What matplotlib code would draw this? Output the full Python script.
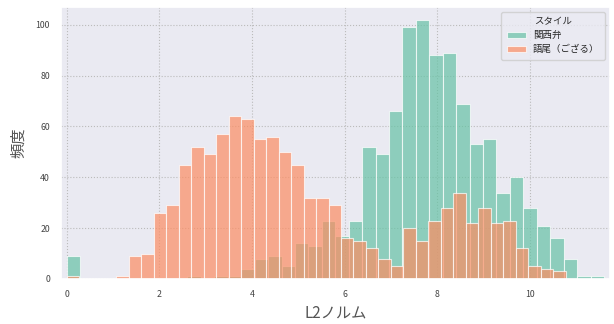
import matplotlib
matplotlib.use("Agg")
import matplotlib.pyplot as plt
import numpy as np
import seaborn as sns

# L2 norm histograms (40 bins each, computed per style)
KANSAI_RANGE = (0.0, 11.60)
KANSAI_COUNTS = [9, 0, 0, 0, 0, 0, 0, 0, 0, 1, 0, 1, 1, 4, 8, 9, 5, 14, 13, 23,
                 17, 23, 52, 49, 66, 99, 102, 88, 89, 69, 53, 55, 34, 40, 28, 21,
                 16, 8, 1, 1]
GOZARU_RANGE = (0.0, 10.77)
GOZARU_COUNTS = [1, 0, 0, 0, 1, 9, 10, 26, 29, 45, 52, 49, 57, 64, 63, 55, 56, 50,
                 45, 32, 32, 29, 16, 15, 12, 8, 5, 20, 15, 23, 28, 34, 22, 28, 22,
                 23, 12, 5, 4, 3]
LABELS = ["関西弁", "語尾（ござる）"]

sns.set_theme(style="darkgrid")
plt.rcParams["font.family"] = ["Noto Sans CJK JP", "DejaVu Sans"]
pal = sns.color_palette("Set2")

fig = plt.figure(figsize=(6.14, 3.24), dpi=100)
ax = fig.add_axes([61 / 614, 1 - 279 / 324, 549 / 614, 272 / 324])

for counts, rng, color, label in [(KANSAI_COUNTS, KANSAI_RANGE, pal[0], LABELS[0]),
                                  (GOZARU_COUNTS, GOZARU_RANGE, pal[1], LABELS[1])]:
    edges = np.linspace(rng[0], rng[1], len(counts) + 1)
    ax.bar(edges[:-1], counts, width=np.diff(edges), align="edge",
           color=color, alpha=0.7, edgecolor="white", linewidth=0.8, label=label)

ax.set_xlim(-0.12, 11.73)
ax.set_ylim(0, 107)
ax.grid(True, linestyle=":", color="#bbbbbb", linewidth=0.8)
ax.tick_params(labelsize=6.3, colors="#444444", pad=2)
ax.set_xlabel("L2ノルム", fontsize=11, color="#555555", labelpad=4)
ax.set_ylabel("頻度", fontsize=11, color="#555555", labelpad=6)
leg = ax.legend(title="スタイル", fontsize=6.8, title_fontsize=6.8, loc="upper right",
                handlelength=2.0, borderpad=0.6, labelspacing=0.5)
leg.get_frame().set_facecolor("#eaeaf2")

fig.savefig("out.png", dpi=100)
